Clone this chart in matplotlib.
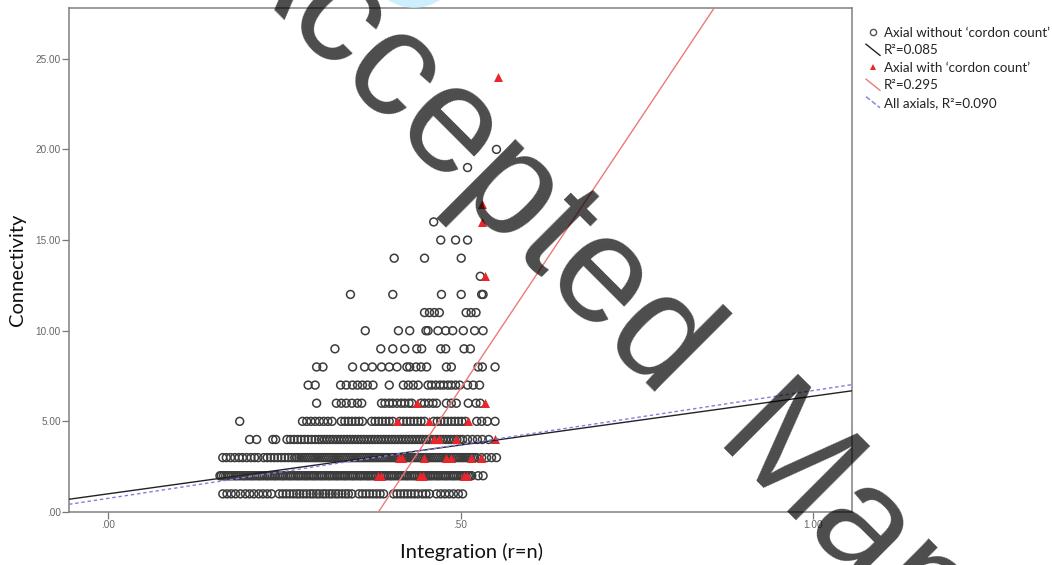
import matplotlib
matplotlib.use("Agg")
import matplotlib.pyplot as plt
import numpy as np
from matplotlib.lines import Line2D
from matplotlib.legend_handler import HandlerBase
from matplotlib.patches import Ellipse

# x positions (integration r=n, in thousandths) of axials WITHOUT cordon count,
# one list per connectivity value
ROW_1 = [163, 169, 175, 181, 188, 195, 201, 207, 214, 220, 226, 232,
         243, 248, 253, 258, 263, 268, 272, 277, 282, 287, 291, 296, 300, 305,
         309, 314, 318, 323, 327, 332, 337, 341, 346,
         356, 361, 366, 371, 376, 381, 386, 391,
         405, 410, 415, 420, 425, 430, 435, 440, 446, 451, 456,
         466, 472, 478, 484, 490, 497, 503]
ROW_2 = [159, 161, 164, 167, 170, 172, 175, 178, 181, 183, 186, 189, 192, 194,
         197, 200, 203, 205, 208, 211, 214, 216, 219, 222, 225, 227, 230, 233,
         236, 238, 241, 244, 247, 249, 252, 255, 258, 260, 263, 266, 269, 271,
         274, 277, 280, 282, 285, 288, 291, 293, 296, 299, 302, 304, 307, 310,
         313, 315, 318, 321, 324, 326, 329, 332, 335, 337, 340, 343, 346, 348,
         351, 354, 357, 359, 362, 365, 368, 370, 373, 376, 379, 381, 384, 387,
         390, 392, 395, 398, 401, 403, 406, 409, 412, 414, 417, 420, 423, 425,
         428, 431, 434, 436, 439, 442, 445, 447, 450, 453, 456, 458, 461, 464,
         467, 469, 472, 475, 478, 480, 483, 486, 489, 491, 494, 497, 500, 502,
         505, 508, 511, 513, 516, 525, 532]
ROW_3 = [163, 168, 174, 180, 186, 191, 197, 203, 208, 213,
         221, 226, 231, 236, 241, 246, 251, 256, 261,
         265, 268, 271, 274, 277, 280, 283, 286, 289, 292, 295, 298, 301, 304,
         307, 310, 313, 316, 319, 322, 325, 328, 331, 334, 337, 340, 343, 346,
         349, 352, 355, 358, 361, 364, 367, 370, 373, 376, 379, 382, 385, 388,
         391, 394, 397, 400, 403, 406, 409, 412, 415, 418, 421, 424, 427, 430,
         433, 436, 439, 442, 445, 448, 451, 454, 457, 460, 463, 466, 469, 472,
         475, 478, 481, 484, 487, 490, 493, 496, 499, 502, 505, 508, 511, 514,
         517, 520, 523, 530, 537, 544, 551]
ROW_4 = [201, 211, 234, 238,
         254, 259, 264, 269, 274, 279, 284, 289, 294, 299,
         303, 307, 311, 315, 319, 323, 327, 331, 335, 339, 343, 347, 351, 355,
         359, 363, 367, 371, 375, 379, 383, 387, 391, 395, 399, 403, 407, 411,
         415, 419, 423, 427, 431, 435, 439, 443, 447, 451, 455, 459, 463, 467,
         471, 475, 479, 483, 487, 491, 495, 499, 503,
         510, 517, 524, 531, 540]
ROW_5 = [187,
         276, 282, 288, 294, 300, 306, 312, 318,
         331, 336, 341, 346, 351, 356, 361,
         374, 379, 384, 389, 394, 399, 404,
         414, 419, 424, 429, 434, 439, 444, 449,
         462, 467, 472, 477, 482, 487, 492, 497, 502, 507,
         523, 530, 538, 549]
ROW_6 = [296, 324, 331, 338, 346, 354, 360, 388, 393, 399, 404, 410, 416, 421,
         427, 431, 444, 449, 455, 461, 466, 480, 487, 494, 511, 522, 528]
ROW_7 = [284, 294, 330, 338, 347, 354, 361, 368, 376, 399, 419, 426, 433, 440,
         454, 459, 465, 471, 476, 482, 487, 493, 499, 510, 518, 527]
ROW_8 = [296, 305, 347, 364, 375, 388, 399, 410, 424, 428, 437, 444, 452,
         480, 487, 525, 531, 549]
ROW_9 = [322, 387, 404, 421, 438, 445, 472, 479, 505, 514]
ROW_10 = [365, 412, 428, 451, 454, 468, 479, 489, 504, 520, 532]
ROW_11 = [449, 456, 463, 470, 508, 515, 522]
ROW_12 = [344, 404, 473, 501, 530, 532]
ROW_13 = [528]
ROW_14 = [406, 449, 501]
ROW_15 = [472, 493, 510]
ROW_16 = [462]
ROW_19 = [510]
ROW_20 = [551]
WITHOUT_ROWS = [(1, ROW_1), (2, ROW_2), (3, ROW_3), (4, ROW_4), (5, ROW_5),
                (6, ROW_6), (7, ROW_7), (8, ROW_8), (9, ROW_9), (10, ROW_10),
                (11, ROW_11), (12, ROW_12), (13, ROW_13), (14, ROW_14),
                (15, ROW_15), (16, ROW_16), (19, ROW_19), (20, ROW_20)]

# axials WITH cordon count (red triangles)
WITH_X = [383, 387, 443, 447, 505, 509,
          413, 417, 448, 479, 486, 515, 529,
          462, 469, 494, 549,
          410, 455, 510,
          438, 535,
          535, 531, 531, 553]
WITH_Y = [2, 2, 2, 2, 2, 2,
          3, 3, 3, 3, 3, 3, 3,
          4, 4, 4, 4,
          5, 5, 5,
          6, 6,
          13, 16, 17, 24]

# fitted lines: (intercept, slope)
FIT_WITHOUT = (1.00, 5.39)
FIT_WITH = (-22.4, 58.4)
FIT_ALL = (0.75, 5.95)

LEGEND_LABELS = ["Axial without \u2018cordon count\u2019", "R\u00b2=0.085",
                 "Axial with \u2018cordon count\u2019", "R\u00b2=0.295",
                 "All axials, R\u00b2=0.090"]


class DiagonalLineHandler(HandlerBase):
    def create_artists(self, legend, orig_handle, xdescent, ydescent,
                       width, height, fontsize, trans):
        x0, y0 = -xdescent, -ydescent
        line = Line2D([x0, x0 + width], [y0 + height * 1.1, y0 - height * 0.1],
                      color=orig_handle.get_color(),
                      linestyle=orig_handle.get_linestyle(),
                      linewidth=orig_handle.get_linewidth(), transform=trans)
        return [line]


def px(x, y):
    # pixel position (from top-left) -> figure fraction
    return x / 1052, 1 - y / 565


def main() -> None:
    fig = plt.figure(figsize=(10.52, 5.65), dpi=100)
    ax = fig.add_axes([69 / 1052, 1 - 512 / 565, (852 - 69) / 1052, (512 - 8) / 565])

    wo_x, wo_y = [], []
    for conn, xs in WITHOUT_ROWS:
        wo_x += [v / 1000 for v in xs]
        wo_y += [conn] * len(xs)
    ax.scatter(wo_x, wo_y, s=32, facecolors="none", edgecolors="#3c3c3c",
               linewidths=1.1, zorder=2)
    ax.scatter(np.array(WITH_X) / 1000, WITH_Y, s=42, marker="^",
               color="#e8262b", linewidths=0, zorder=3)

    xlim = (-0.055, 1.055)
    xs = np.array(xlim)
    ax.plot(xs, FIT_WITHOUT[0] + FIT_WITHOUT[1] * xs, color="#222222", lw=1.0, zorder=4)
    ax.plot(xs, FIT_WITH[0] + FIT_WITH[1] * xs, color="#f07878", lw=1.0, zorder=4)
    ax.plot(xs, FIT_ALL[0] + FIT_ALL[1] * xs, color="#8080e0", lw=1.0,
            linestyle=(0, (2.5, 2)), zorder=4)

    ax.set_xlim(*xlim)
    ax.set_ylim(0, 27.8)
    ax.set_xticks([0, 0.5, 1.0])
    ax.set_xticklabels([".00", ".50", "1.00"])
    ax.set_yticks([0, 5, 10, 15, 20, 25])
    ax.set_yticklabels([".00", "5.00", "10.00", "15.00", "20.00", "25.00"])
    ax.tick_params(direction="out", length=5, width=0.9, color="#777777",
                   labelcolor="#666666", labelsize=7.2, pad=0.8)
    for lab in ax.get_xticklabels() + ax.get_yticklabels():
        lab.set_family("Liberation Sans")
    for sp in ax.spines.values():
        sp.set_color("#808080")
        sp.set_linewidth(1.1)

    fig.text(*px(18, 270), "Connectivity", rotation=90, ha="center",
             va="center", fontsize=14.5, family="Lato", color="#111111")
    fig.text(*px(472, 552), "Integration (r=n)", ha="center",
             va="center", fontsize=14.5, family="Lato", color="#111111")

    handles = [
        Line2D([], [], marker="o", linestyle="none", markerfacecolor="none",
               markeredgecolor="#555555", markersize=4.5, markeredgewidth=1.0),
        Line2D([], [], color="#222222", lw=1.0),
        Line2D([], [], marker="^", linestyle="none", color="#e8262b",
               markersize=5, markeredgewidth=0),
        Line2D([], [], color="#f07878", lw=1.0),
        Line2D([], [], color="#8080e0", lw=1.0, linestyle=(0, (2, 1.5))),
    ]
    diag = DiagonalLineHandler()
    leg = fig.legend(handles, LEGEND_LABELS, loc="upper left",
                     bbox_to_anchor=px(866, 27), frameon=False,
                     handlelength=1.05, handletextpad=0.3,
                     labelspacing=0.41, borderaxespad=0, borderpad=0,
                     handler_map={handles[1]: diag, handles[3]: diag, handles[4]: diag},
                     prop={"family": "Lato", "size": 9.6})
    for t in leg.get_texts():
        t.set_color("#222222")

    # cropped logo blob at top edge
    fig.patches.append(Ellipse(px(414, -40), 94 / 1052, 94 / 565,
                               transform=fig.transFigure, color="#cdeefc",
                               zorder=0))

    # "Accepted Manuscript" watermark, two words placed separately
    wm = dict(rotation=-45, rotation_mode="anchor", ha="left", va="baseline",
              fontsize=110, family="Liberation Sans", color="black",
              alpha=0.7, zorder=10)
    fig.text(*px(211, -52), "Accepted", **wm)
    fig.text(*px(710, 447), "Manuscript", **wm)

    fig.savefig("out.png", dpi=100)


if __name__ == "__main__":
    main()
